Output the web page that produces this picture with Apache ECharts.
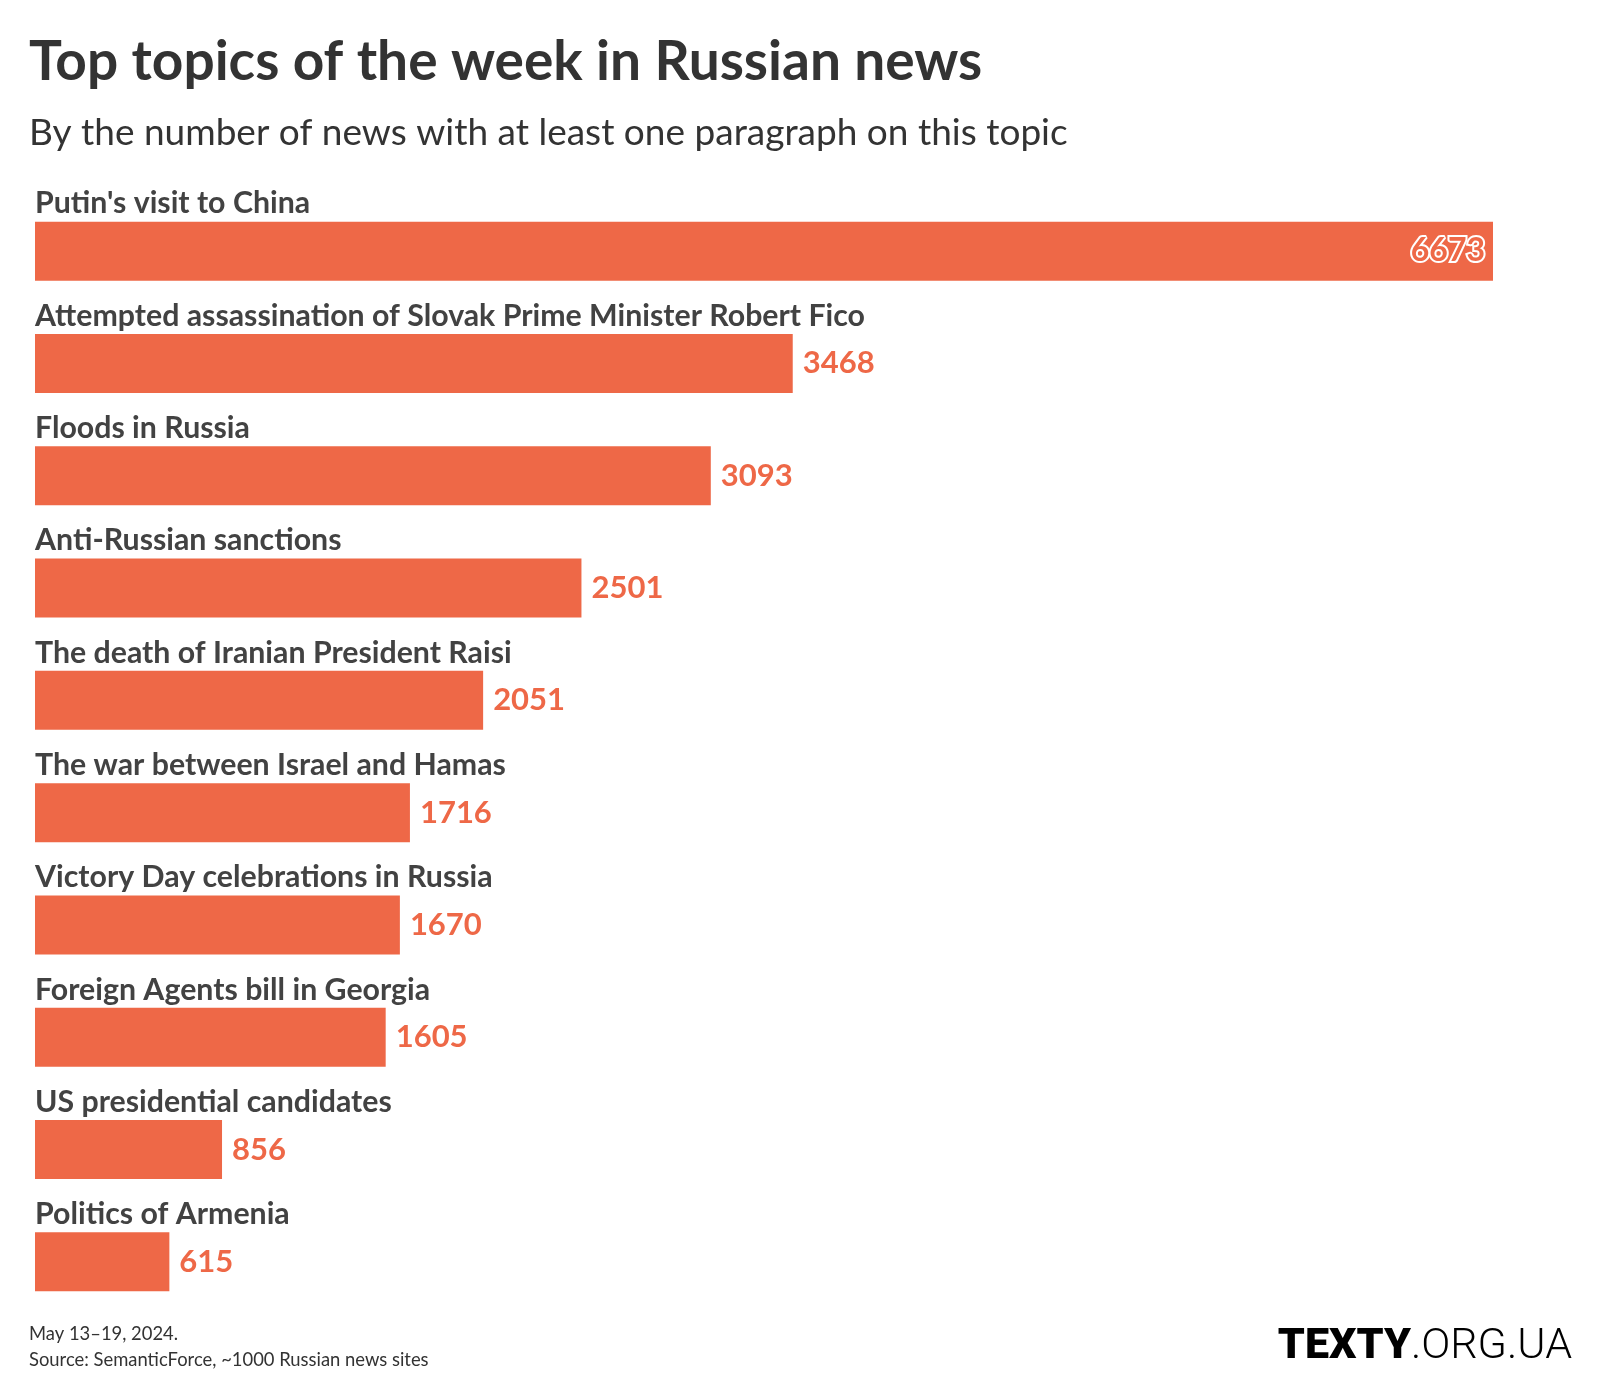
<!DOCTYPE html>
<html>
<head>
<meta charset="utf-8">
<script src="https://cdn.jsdelivr.net/npm/echarts@6/dist/echarts.min.js"></script>
<style>
html,body{margin:0;padding:0;background:#fff;}
#chart{width:1600px;height:1400px;}
</style>
</head>
<body>
<div id="chart"></div>
<script>
const categories = [
  "Putin's visit to China",
  "Attempted assassination of Slovak Prime Minister Robert Fico",
  "Floods in Russia",
  "Anti-Russian sanctions",
  "The death of Iranian President Raisi",
  "The war between Israel and Hamas",
  "Victory Day celebrations in Russia",
  "Foreign Agents bill in Georgia",
  "US presidential candidates",
  "Politics of Armenia"
];
const values = [6673, 3468, 3093, 2501, 2051, 1716, 1670, 1605, 856, 615];

const titleText = "Top topics of the week in Russian news";
const subtitleText = "By the number of news with at least one paragraph on this topic";
const noteText = "May 13\u201319, 2024.";
const sourceText = "Source: SemanticForce, ~1000 Russian news sites";

const BAR = '#ee6847';
const FONT = 'Lato';
const maxVal = Math.max(...values);

const chart = echarts.init(document.getElementById('chart'), null, {renderer: 'canvas'});

const valueData = values.map(v => {
  if (v / maxVal > 0.9) {
    return {
      value: v,
      label: {
        position: 'insideRight',
        distance: 8,
        fontSize: 32,
        color: BAR,
        textBorderColor: '#ffffff',
        textBorderWidth: 4
      }
    };
  }
  return v;
});

chart.setOption({
  backgroundColor: '#ffffff',
  animation: false,
  grid: {left: 35, right: 107, top: 195, height: 1123, containLabel: false},
  xAxis: {
    type: 'value', min: 0, max: maxVal,
    show: false
  },
  yAxis: {
    type: 'category', data: categories, inverse: true,
    axisLine: {show: false}, axisTick: {show: false}, axisLabel: {show: false},
    splitLine: {show: false}
  },
  series: [
    {
      type: 'bar', data: valueData, barWidth: 59,
      itemStyle: {color: BAR},
      label: {
        show: true, position: 'right', distance: 10,
        fontFamily: FONT, fontWeight: 'bold', fontSize: 31, color: BAR
      },
      z: 2
    },
    {
      type: 'bar', data: values, barWidth: 59, barGap: '-100%',
      itemStyle: {color: 'rgba(0,0,0,0)'},
      label: {
        show: true, position: [0, -3], align: 'left', verticalAlign: 'bottom',
        formatter: '{b}',
        fontFamily: FONT, fontWeight: 'bold', fontSize: 30.3, color: '#424242'
      },
      silent: true, z: 3
    }
  ],
  graphic: [
    {type: 'text', left: 29, top: 35, style: {text: titleText, fontFamily: FONT, fontWeight: 'bold', fontSize: 55, fill: '#333333'}},
    {type: 'text', left: 29, top: 115, style: {text: subtitleText, fontFamily: FONT, fontSize: 37, fill: '#333333'}},
    {type: 'text', left: 29, top: 1325, style: {text: noteText, fontFamily: FONT, fontSize: 18.4, fill: '#333333'}},
    {type: 'text', left: 29, top: 1351, style: {text: sourceText, fontFamily: FONT, fontSize: 18.4, fill: '#333333'}},
    {type: 'text', right: 28, top: 1326, style: {
      text: '{a|TEXTY}{b|.ORG.UA}',
      rich: {
        a: {fontFamily: 'Roboto', fontWeight: 900, fontSize: 43, fill: '#000000', color: '#000000'},
        b: {fontFamily: 'Roboto', fontWeight: 300, fontSize: 43, fill: '#000000', color: '#000000'}
      }
    }}
  ]
});
</script>
</body>
</html>
